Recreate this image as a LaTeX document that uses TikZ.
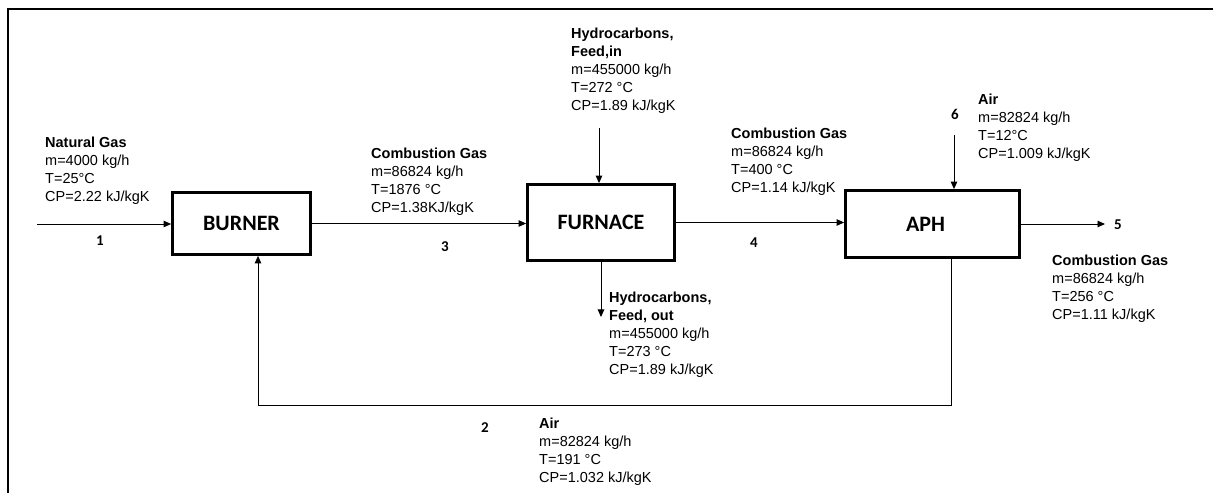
\documentclass[tikz,border=0pt]{standalone}
\usepackage{fontspec}
\setmainfont{Liberation Sans}
\newfontfamily\calib{Carlito}
\usetikzlibrary{arrows.meta}
\begin{document}
\begin{tikzpicture}[x=1bp,y=-1bp,
  unit/.style={draw, line width=2.8bp, inner sep=0pt,
    font=\calib\bfseries\fontsize{22bp}{26bp}\selectfont},
  info/.style={anchor=north west, align=left, inner sep=0pt,
    font=\fontsize{14.5bp}{18bp}\selectfont},
  num/.style={inner sep=0pt, font=\calib\bfseries\fontsize{15bp}{17bp}\selectfont},
  arr/.style={-{Triangle[length=7.5bp,width=6.5bp]}, line width=0.9bp},
  frame/.style={line width=2bp}]
\useasboundingbox (0,0) rectangle (1213,493);
% frame
\coordinate (fbl) at (8,493);
\coordinate (ftl) at (8,9.5);
\coordinate (ftr) at (1213,9.5);
\draw[frame] (fbl) -- (ftl) -- (ftr);
% units
\node[unit, minimum width=138bp, minimum height=62bp] (burner) at (241.5,223.5) {BURNER};
\node[unit, minimum width=147bp, minimum height=76bp] (furnace) at (601,222.5) {FURNACE};
\node[unit, minimum width=174bp, minimum height=67bp] (aph) at (932.5,224) {\hspace*{-14bp}APH};
% free ends
\coordinate (in1) at (37,224);
\coordinate (out5) at (1105,224);
\coordinate (fin) at (599,128);
\coordinate (a6) at (954,135);
\coordinate (fout) at (601,317);
\coordinate (lp) at (951,405);
\coordinate (lq) at (258,405);
% connectors
\draw[arr] (in1) -- (in1 -| burner.west);
\draw[arr] (burner.east) -- (burner.east -| furnace.west);
\draw[arr] (furnace.east) -- (furnace.east -| aph.west);
\draw[arr] (aph.east) -- (out5);
\draw[arr] (fin) -- (fin |- furnace.north);
\draw[arr] (a6) -- (a6 |- aph.north);
\draw[arr] (furnace.south) -- (fout);
\draw[arr] (lp |- aph.south) -- (lp) -- (lq) -- (lq |- burner.south);
% stream data
\node[info] (ng) at (45,136.5) {\textbf{Natural Gas}\\m=4000 kg/h\\T=25°C\\CP=2.22 kJ/kgK};
\node[info] (cg3) at (371,147.5) {\textbf{Combustion Gas}\\m=86824 kg/h\\T=1876 °C\\CP=1.38KJ/kgK};
\node[info] (hin) at (571,27.5) {\textbf{Hydrocarbons,}\\\textbf{Feed,in}\\m=455000 kg/h\\T=272 °C\\CP=1.89 kJ/kgK};
\node[info] (cg4) at (731,127.5) {\textbf{Combustion Gas}\\m=86824 kg/h\\T=400 °C\\CP=1.14 kJ/kgK};
\node[info] (air6) at (978,93.5) {\textbf{Air}\\m=82824 kg/h\\T=12°C\\CP=1.009 kJ/kgK};
\node[info] (cg5) at (1052,254.5) {\textbf{Combustion Gas}\\m=86824 kg/h\\T=256 °C\\CP=1.11 kJ/kgK};
\node[info] (hout) at (609,292) {\textbf{Hydrocarbons,}\\\textbf{Feed, out}\\m=455000 kg/h\\T=273 °C\\CP=1.89 kJ/kgK};
\node[info] (air2) at (539,417.5) {\textbf{Air}\\m=82824 kg/h\\T=191 °C\\CP=1.032 kJ/kgK};
% stream numbers
\node[num] (n1) at (100,241) {1};
\node[num] (n2) at (485,428) {2};
\node[num] (n3) at (445,247) {3};
\node[num] (n4) at (754,243) {4};
\node[num] (n5) at (1118,225) {5};
\node[num] (n6) at (955,114) {6};
\end{tikzpicture}
\end{document}
